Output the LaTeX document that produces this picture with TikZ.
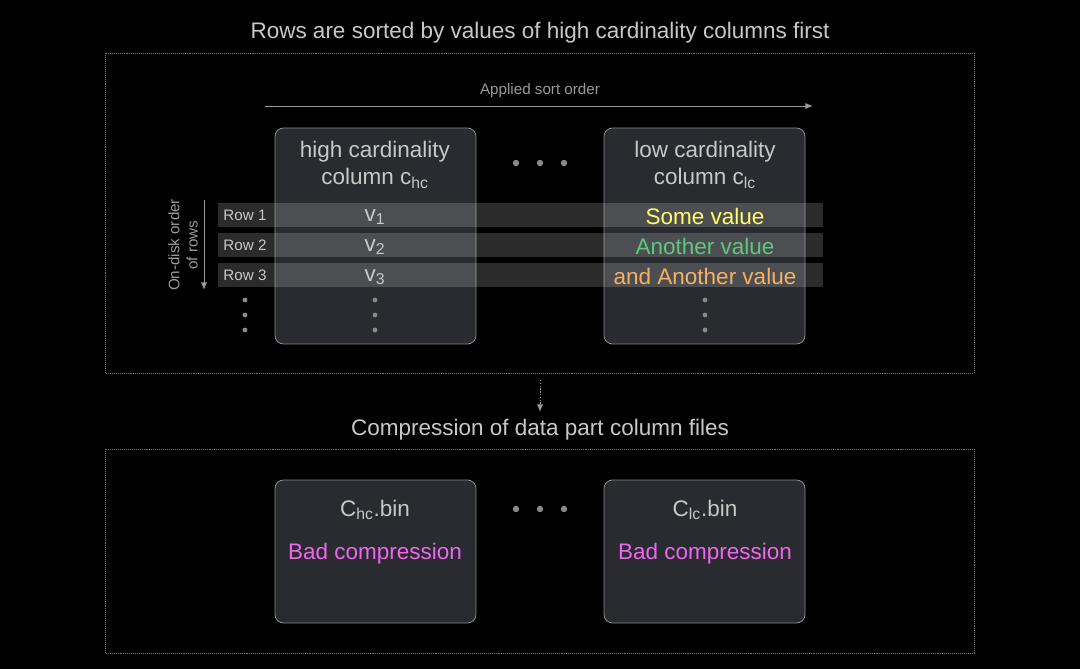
\documentclass[tikz,border=0pt]{standalone}
\usepackage{fontspec}
\setmainfont{Liberation Sans}
\setsansfont{Liberation Sans}
\usetikzlibrary{arrows.meta}
\definecolor{txtgray}{HTML}{C8C8C8}
\definecolor{lblgray}{HTML}{9A9A9A}
\definecolor{framegray}{HTML}{7A7A7A}
\definecolor{boxfill}{HTML}{2A2B30}
\definecolor{boxline}{HTML}{8C8C8C}
\definecolor{dotgray}{HTML}{8A8A8A}
\definecolor{yellowv}{HTML}{FFFF66}
\definecolor{greenv}{HTML}{5EC97A}
\definecolor{orangev}{HTML}{F5B262}
\definecolor{magentav}{HTML}{EE66EE}
\begin{document}
\begin{tikzpicture}[
    x=0.025cm,y=-0.025cm,
    every node/.style={text=txtgray,font=\fontsize{16}{19}\selectfont,inner sep=0pt},
    small/.style={text=lblgray,font=\fontsize{10.8}{13}\selectfont},
    colbox/.style={draw=boxline,fill=boxfill,rounded corners=6pt,line width=.6pt},
    frame/.style={draw=framegray,dash pattern=on .7pt off .7pt,line width=.5pt},
    rowband/.style={fill=white,fill opacity=.17},
    arr/.style={draw=lblgray,line width=.7pt,-{Latex[length=5.5pt,width=4.5pt]}}]
    \fill[black] (0,0) rectangle (1080,669);
    \useasboundingbox (0,0) rectangle (1080,669);
    \node (title) at (540,33) {Rows are sorted by values of high cardinality columns first};
    \draw[frame] (105,53) rectangle (974,373);
    \coordinate (s0) at (265,106);
    \coordinate (s1) at (813,106);
    \draw[arr] (s0) -- (s1);
    \node[small] (sortlbl) at (540,91) {Applied sort order};
    \draw[colbox] (275,128) rectangle (476,344);
    \draw[colbox] (604,128) rectangle (805,344);
    \node[align=center] (hc) at (375,165) {high cardinality\\column c\textsubscript{hc}};
    \node[align=center] (lc) at (705,165) {low cardinality\\column c\textsubscript{lc}};
    \foreach \x in {516,540,564} \fill[dotgray] (\x,163) circle (3.2);
    \foreach \n/\y/\val/\col in {1/215/Some value/yellowv,2/245/Another value/greenv,3/275/and Another value/orangev} {
        \fill[rowband] (218,\y-12) rectangle (823,\y+12);
        \node[small,text=txtgray] (row\n) at (245,\y) {Row \n};
        \node (v\n) at (375,\y+2) {v\textsubscript{\n}};
        \node[text=\col] (val\n) at (705,\y+1) {\val};
    }
    \foreach \x in {245,375,705}
        \foreach \y in {300,315,330} \fill[dotgray] (\x,\y) circle (2.4);
    \coordinate (d0) at (204,200);
    \coordinate (d1) at (204,290);
    \draw[arr] (d0) -- (d1);
    \node[small,rotate=90,align=center] (disklbl) at (183,245) {On-disk order\\of rows};
    \coordinate (c0) at (540,380);
    \coordinate (c1) at (540,412);
    \draw[arr,dash pattern=on 1pt off 1pt] (c0) -- (c1);
    \node (comp) at (540,430) {Compression of data part column files};
    \draw[frame] (105,449) rectangle (974,653);
    \draw[colbox] (275,480) rectangle (476,623);
    \draw[colbox] (604,480) rectangle (805,623);
    \node (hcbin) at (375,510) {C\textsubscript{hc}.bin};
    \node (lcbin) at (705,510) {C\textsubscript{lc}.bin};
    \node[text=magentav] (hcbad) at (375,554) {Bad compression};
    \node[text=magentav] (lcbad) at (705,554) {Bad compression};
    \foreach \x in {516,540,564} \fill[dotgray] (\x,509) circle (3.2);
\end{tikzpicture}
\end{document}
